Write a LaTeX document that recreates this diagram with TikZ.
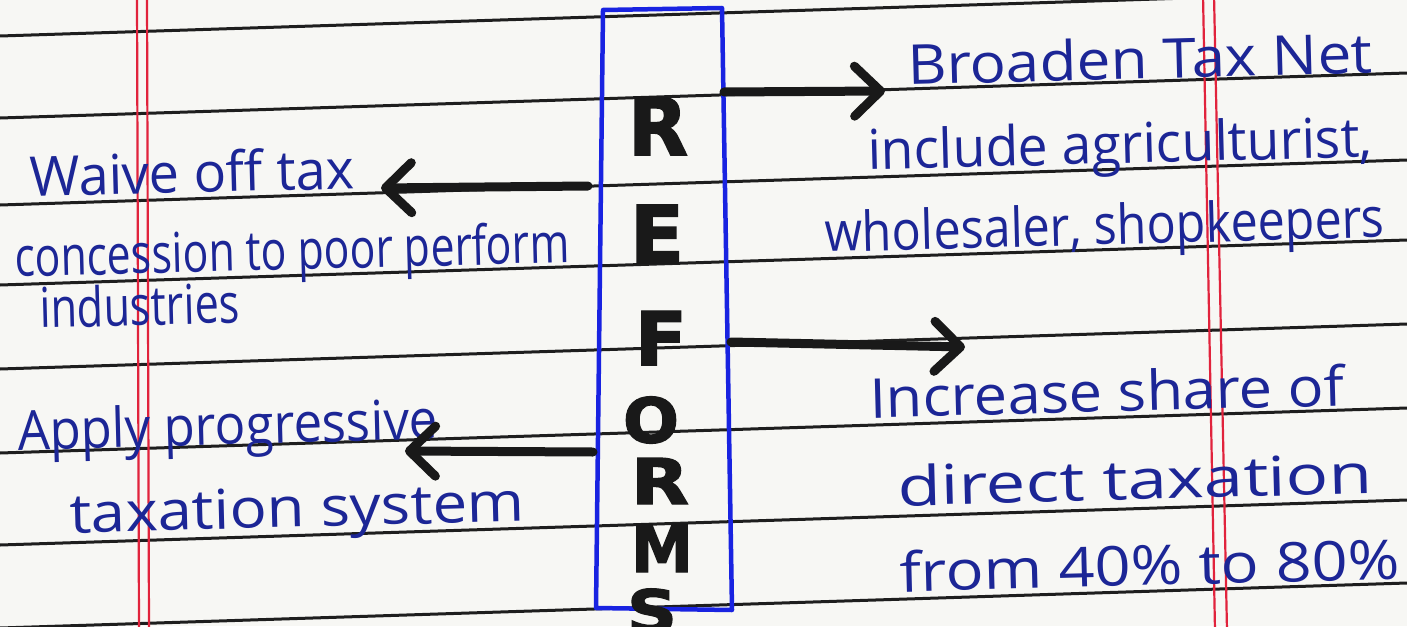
\documentclass[tikz,border=0pt]{standalone}
\usepackage{fontspec}
\setmainfont{Open Sans}
\newfontfamily\capsfont{DejaVu Sans}[BoldFeatures={FakeBold=2}]
\usetikzlibrary{arrows.meta}
\definecolor{paper}{RGB}{247,247,244}
\definecolor{rulecol}{RGB}{30,30,30}
\definecolor{margincol}{RGB}{225,35,60}
\definecolor{ink}{RGB}{28,38,150}
\definecolor{boxblue}{RGB}{25,35,225}
\definecolor{marker}{RGB}{25,25,25}
\newlength\hwlen
\newcommand\hw[2]{\settowidth\hwlen{#2}\pgfmathsetmacro\hwsc{#1/\hwlen}\scalebox{\hwsc}[1]{#2}}
\newcommand\bigletter[3]{\resizebox{#1pt}{#2pt}{\capsfont\bfseries #3}}
\tikzset{
  ruleline/.style={rulecol, line width=3pt},
  marginline/.style={margincol, line width=2.2pt},
  txt/.style={anchor=base west, inner sep=0pt, text=ink, font=\fontsize{55}{60}\selectfont, rotate=1.5},
  letter/.style={inner sep=0pt, text=marker},
  arr/.style={line width=9pt, line cap=round, marker, -{Straight Barb[length=26pt,width=50pt,round]}}
}
\begin{document}
\begin{tikzpicture}[x=1pt,y=-1pt]
\useasboundingbox (0,0) rectangle (1407,626);
\fill[paper] (0,0) rectangle (1407,626);
% ruled lines
\foreach \yy in {36,118,205,285,369,453,545,628}
  \draw[ruleline] (0,\yy) -- (1407,\yy-45);
% margins
\draw[marginline] (137,-5) -- (139,631);
\draw[marginline] (147,-5) -- (149,631);
\draw[marginline] (1203,-5) -- (1215,631);
\draw[marginline] (1214,-5) -- (1227,631);
% central box
\draw[boxblue, line width=4.5pt, line join=round] (603,10) -- (722,8) -- (732,610) -- (596,608) -- cycle;
% letters
\node[letter] (l1) at (658,126) {\bigletter{60}{58}{R}};
\node[letter] (l2) at (657,234) {\bigletter{54}{58}{E}};
\node[letter] (l3) at (661,338) {\bigletter{52}{54}{F}};
\node[letter] (l4) at (651,420) {\bigletter{56}{46}{O}};
\node[letter] (l5) at (660,481) {\bigletter{58}{46}{R}};
\node[letter] (l6) at (662,548) {\bigletter{62}{48}{M}};
\node[letter] (l7) at (652,611) {\bigletter{50}{44}{S}};
% left texts
\node[txt] (waive) at (30,197) {\hw{325}{Waive off tax}};
\node[txt] (conc) at (15,277) {\hw{555}{concession to poor perform}};
\node[txt] (indus) at (40,328) {\hw{200}{industries}};
\node[txt] (apply) at (18,450) {\hw{420}{Apply progressive}};
\node[txt] (taxsys) at (70,533) {\hw{455}{taxation system}};
% right texts
\node[txt] (broad) at (908,85) {\hw{465}{Broaden Tax Net}};
\node[txt] (incl) at (868,170) {\hw{505}{include agriculturist,}};
\node[txt] (whole) at (825,252) {\hw{560}{wholesaler, shopkeepers}};
\node[txt] (incr) at (870,418) {\hw{475}{Increase share of}};
\node[txt] (direct) at (898,506) {\hw{475}{direct taxation}};
\node[txt] (from) at (900,592) {\hw{500}{from 40\% to 80\%}};
% arrow ends
\coordinate (s1) at (724,92);
\coordinate (t1) at (885,91);
\coordinate (s2) at (588,186);
\coordinate (t2) at (381,188);
\coordinate (s3) at (731,342);
\coordinate (t3) at (965,347);
\coordinate (s4) at (593,452);
\coordinate (t4) at (405,451);
\draw[arr] (s1) -- (t1);
\draw[arr] (s2) -- (t2);
\draw[arr] (s3) -- (t3);
\draw[arr] (s4) -- (t4);
\end{tikzpicture}
\end{document}
